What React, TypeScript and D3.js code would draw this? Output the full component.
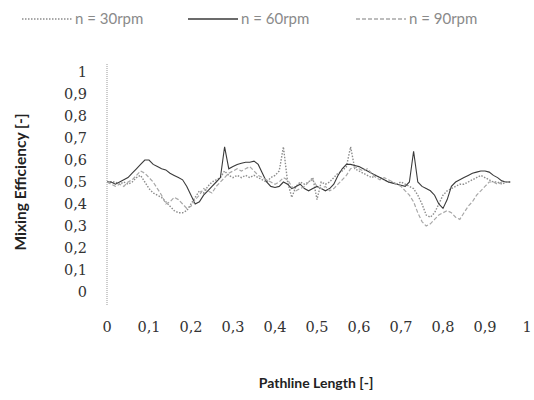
import { useEffect, useRef } from "react";
import * as d3 from "d3";

// pathline length samples shared by all three series
const pathline = [
  0.0, 0.01, 0.02, 0.03, 0.04, 0.05, 0.06, 0.07, 0.08, 0.09,
  0.1, 0.11, 0.12, 0.13, 0.14, 0.15, 0.16, 0.17, 0.18, 0.19,
  0.2, 0.21, 0.22, 0.23, 0.24, 0.25, 0.26, 0.27, 0.28, 0.29,
  0.3, 0.31, 0.32, 0.33, 0.34, 0.35, 0.36, 0.37, 0.38, 0.39,
  0.4, 0.41, 0.42, 0.43, 0.44, 0.45, 0.46, 0.47, 0.48, 0.49,
  0.5, 0.51, 0.52, 0.53, 0.54, 0.55, 0.56, 0.57, 0.58, 0.59,
  0.6, 0.61, 0.62, 0.63, 0.64, 0.65, 0.66, 0.67, 0.68, 0.69,
  0.7, 0.71, 0.72, 0.73, 0.74, 0.75, 0.76, 0.77, 0.78, 0.79,
  0.8, 0.81, 0.82, 0.83, 0.84, 0.85, 0.86, 0.87, 0.88, 0.89,
  0.9, 0.91, 0.92, 0.93, 0.94, 0.95, 0.96,
];

const rpm30 = [
  0.5, 0.5, 0.5, 0.49, 0.5, 0.49, 0.5, 0.52, 0.53, 0.5,
  0.47, 0.45, 0.44, 0.43, 0.41, 0.39, 0.37, 0.36, 0.36, 0.37,
  0.4, 0.43, 0.46, 0.45, 0.48, 0.5, 0.51, 0.52, 0.55, 0.53,
  0.52, 0.53, 0.52, 0.53, 0.52, 0.53, 0.52, 0.51, 0.5, 0.52,
  0.53, 0.55, 0.66, 0.5, 0.43, 0.48, 0.5, 0.49, 0.5, 0.52,
  0.42, 0.5, 0.49, 0.5, 0.52, 0.54, 0.55, 0.57, 0.66, 0.56,
  0.55, 0.54, 0.53, 0.52, 0.53, 0.52, 0.51, 0.5, 0.5, 0.49,
  0.5, 0.49, 0.48, 0.47, 0.44, 0.4, 0.35, 0.34, 0.36, 0.4,
  0.44, 0.46, 0.47, 0.48, 0.49, 0.49, 0.5, 0.51, 0.52, 0.53,
  0.52, 0.51, 0.5, 0.5, 0.49, 0.5, 0.5,
];

const rpm60 = [
  0.5, 0.5, 0.49, 0.5, 0.51, 0.52, 0.54, 0.56, 0.58, 0.6,
  0.6, 0.58, 0.57, 0.56, 0.555, 0.54, 0.53, 0.52, 0.51, 0.48,
  0.44, 0.4, 0.41, 0.44, 0.46, 0.48, 0.5, 0.52, 0.66, 0.56,
  0.57, 0.58, 0.585, 0.59, 0.59, 0.595, 0.58, 0.54, 0.5, 0.48,
  0.475, 0.48, 0.5, 0.49, 0.47, 0.48, 0.49, 0.47, 0.46, 0.47,
  0.48, 0.47, 0.46, 0.47, 0.49, 0.53, 0.56, 0.58, 0.58, 0.575,
  0.57, 0.56, 0.55, 0.54, 0.53, 0.52, 0.51, 0.5, 0.495, 0.49,
  0.485, 0.48, 0.5, 0.64, 0.5, 0.48, 0.47, 0.46, 0.44, 0.4,
  0.38, 0.42, 0.48, 0.5, 0.51, 0.52, 0.53, 0.54, 0.545, 0.55,
  0.55, 0.545, 0.53, 0.52, 0.505, 0.5, 0.5,
];

const rpm90 = [
  0.5, 0.49, 0.48, 0.49, 0.48, 0.5, 0.51, 0.53, 0.55, 0.54,
  0.52, 0.5, 0.47, 0.44, 0.4, 0.41, 0.43, 0.42, 0.4, 0.38,
  0.39, 0.42, 0.44, 0.47, 0.46, 0.45, 0.48, 0.5, 0.52, 0.54,
  0.55, 0.56, 0.55, 0.56, 0.57, 0.55, 0.53, 0.52, 0.51, 0.5,
  0.49, 0.5, 0.52, 0.51, 0.48, 0.46, 0.47, 0.48, 0.5, 0.51,
  0.48, 0.47, 0.48, 0.46, 0.47, 0.49, 0.51, 0.53, 0.56, 0.57,
  0.56, 0.55, 0.56, 0.54, 0.52, 0.51, 0.52, 0.51, 0.5, 0.49,
  0.48, 0.46, 0.44, 0.41, 0.36, 0.32, 0.3, 0.31, 0.33, 0.35,
  0.36, 0.37, 0.36, 0.34, 0.33, 0.36, 0.39, 0.41, 0.44, 0.46,
  0.48, 0.5, 0.5, 0.49, 0.5, 0.5, 0.5,
];

const seriesNames = ["n = 30rpm", "n = 60rpm", "n = 90rpm"];
const xTicks = [0, 0.1, 0.2, 0.3, 0.4, 0.5, 0.6, 0.7, 0.8, 0.9, 1];
const yTicks = [0, 0.1, 0.2, 0.3, 0.4, 0.5, 0.6, 0.7, 0.8, 0.9, 1];

export default function App() {
  const svgRef = useRef<SVGSVGElement | null>(null);

  useEffect(() => {
    const width = 534;
    const height = 400;
    const svg = d3.select(svgRef.current);
    svg.selectAll("*").remove();
    svg.attr("viewBox", `0 0 ${width} ${height}`);

    svg.append("rect").attr("width", width).attr("height", height).attr("fill", "#fff");

    const x = d3.scaleLinear().domain([0, 1]).range([107, 527]);
    const y = d3.scaleLinear().domain([0, 1]).range([292, 72]);
    const fmt = (v: number) => d3.format("~g")(v).replace(".", ",");

    const styles = [
      { stroke: "#8c8c8c", width: 1.4, dash: "1.5,1.5" },
      { stroke: "#3a3a3a", width: 1.1, dash: null },
      { stroke: "#a8a8a8", width: 1.2, dash: "4,2" },
    ];

    // y axis line
    svg.append("line")
      .attr("x1", x(0)).attr("x2", x(0))
      .attr("y1", y(1) - 8).attr("y2", y(0) + 14)
      .attr("stroke", "#999")
      .attr("stroke-width", 1)
      .attr("stroke-dasharray", "1,1");

    // y tick labels
    svg.append("g")
      .selectAll("text")
      .data(yTicks)
      .join("text")
      .attr("x", 87)
      .attr("y", d => y(d))
      .attr("dy", "0.35em")
      .attr("text-anchor", "end")
      .attr("font-family", "DejaVu Serif")
      .attr("font-size", 14.5)
      .attr("fill", "#333")
      .text(d => fmt(d));

    // x tick labels
    svg.append("g")
      .selectAll("text")
      .data(xTicks)
      .join("text")
      .attr("x", d => x(d))
      .attr("y", 327)
      .attr("dy", "0.35em")
      .attr("text-anchor", "middle")
      .attr("font-family", "DejaVu Serif")
      .attr("font-size", 14.5)
      .attr("fill", "#333")
      .text(d => fmt(d));

    // axis titles
    svg.append("text")
      .attr("x", 316)
      .attr("y", 383)
      .attr("dy", "0.35em")
      .attr("text-anchor", "middle")
      .attr("font-family", "Lato")
      .attr("font-weight", "bold")
      .attr("font-size", 14)
      .attr("fill", "#222")
      .text("Pathline Length [-]");

    svg.append("text")
      .attr("transform", `translate(21,${y(0.5)}) rotate(-90)`)
      .attr("dy", "0.35em")
      .attr("text-anchor", "middle")
      .attr("font-family", "Lato")
      .attr("font-weight", "bold")
      .attr("font-size", 15.5)
      .attr("fill", "#222")
      .text("Mixing Efficiency [-]");

    // series lines
    const line = d3.line<[number, number]>()
      .x(d => x(d[0]))
      .y(d => y(d[1]));

    [rpm30, rpm60, rpm90].forEach((vals, i) => {
      const pts = pathline.map((p, j) => [p, vals[j]] as [number, number]);
      svg.append("path")
        .datum(pts)
        .attr("d", line)
        .attr("fill", "none")
        .attr("stroke", styles[i].stroke)
        .attr("stroke-width", styles[i].width)
        .attr("stroke-dasharray", styles[i].dash);
    });

    // legend
    const legendX = [22, 188, 356];
    const lg = svg.append("g");
    seriesNames.forEach((name, i) => {
      lg.append("line")
        .attr("x1", legendX[i]).attr("x2", legendX[i] + 50)
        .attr("y1", 19).attr("y2", 19)
        .attr("stroke", styles[i].stroke)
        .attr("stroke-width", 1.6)
        .attr("stroke-dasharray", styles[i].dash);
      lg.append("text")
        .attr("x", legendX[i] + 53)
        .attr("y", 19)
        .attr("dy", "0.35em")
        .attr("font-family", "Lato")
        .attr("font-size", 15)
        .attr("fill", "#8a8a8a")
        .text(name);
    });
  }, []);

  return (
    <svg
      ref={svgRef}
      width={534}
      height={400}
      style={{ position: "absolute", left: 0, top: 0, display: "block" }}
    />
  );
}
